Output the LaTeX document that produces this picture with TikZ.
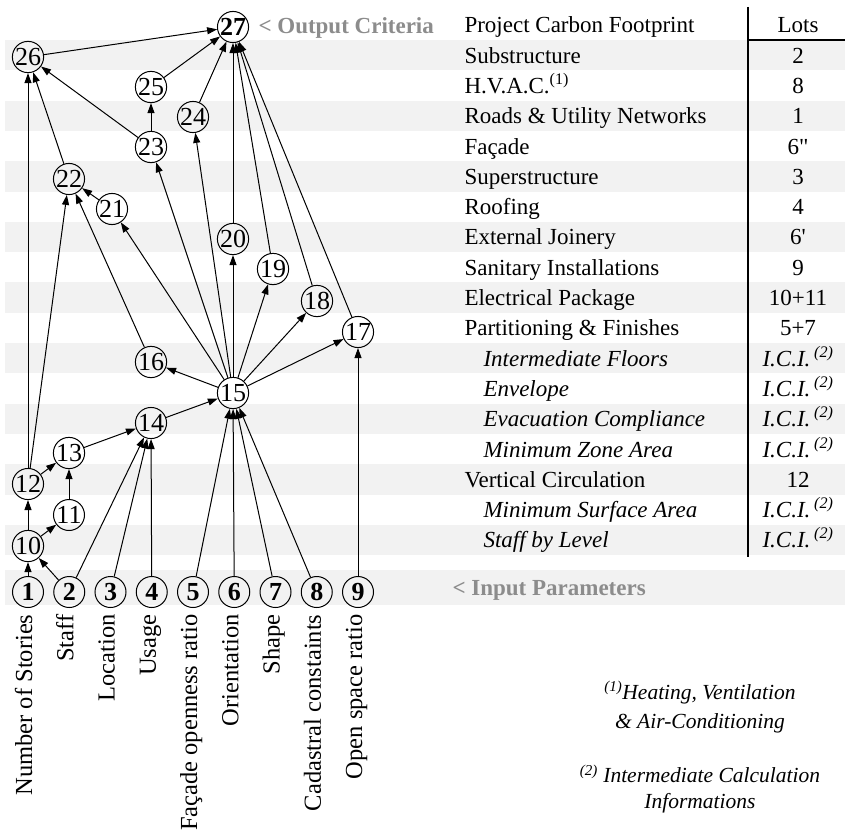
\documentclass[tikz,border=0pt]{standalone}
\usepackage{fontspec}
\setmainfont{Liberation Serif}
\usetikzlibrary{arrows.meta}

\definecolor{bandgray}{RGB}{242,242,242}
\definecolor{critgray}{RGB}{140,140,140}
\newcommand\ici{\textit{I.C.I.\,\textsuperscript{(2)}}}

\begin{document}
\begin{tikzpicture}[->,>={Triangle[length=10pt,width=7pt]},x=1pt,y=-1pt,node distance=41.25pt,line width=1pt,
  state/.style={circle,draw,minimum size=31pt,inner sep=0pt,font=\fontsize{26}{26}\selectfont},
  input/.style={state,font=\fontsize{26}{26}\selectfont\bfseries},
  param/.style={rotate=90,anchor=base east,inner sep=0pt,font=\fontsize{24.5}{26}\selectfont},
  tabtext/.style={anchor=base west,inner sep=0pt,font=\fontsize{23}{26}\selectfont},
  tabsub/.style={tabtext,font=\fontsize{23}{26}\selectfont\itshape},
  tablot/.style={anchor=base,inner sep=0pt,font=\fontsize{23}{26}\selectfont},
  legend/.style={anchor=base west,inner sep=0pt,text=critgray,font=\fontsize{23}{26}\selectfont\bfseries},
  note/.style={align=center,inner sep=0pt,font=\itshape}]
\useasboundingbox (0,0) rectangle (845,832);

% stripes
\foreach \r in {1,3,...,17}
  \fill[bandgray,-] (5,{9.7+30.3*\r}) rectangle (845,{40+30.3*\r});
\fill[bandgray,-] (5,570) rectangle (845,605);

% table
\draw[-,line width=2pt] (748,7) -- (748,557);
\draw[-,line width=2pt] (748,40) -- (845,40);
\node[tabtext](hdr) at (464,33) {Project Carbon Footprint};
\node[tablot](hdrlot) at (798,33) {Lots};
\foreach \i/\txt/\lot in {1/Substructure/2, 2/{H.V.A.C.\textsuperscript{(1)}}/8,
  3/{Roads \& Utility Networks}/1, 4/Façade/6\textquotedbl, 5/Superstructure/3,
  6/Roofing/4, 7/External Joinery/6\textquotesingle, 8/Sanitary Installations/9,
  9/Electrical Package/10+11, 10/{Partitioning \& Finishes}/5+7, 15/Vertical Circulation/12}
{
  \node[tabtext](row\i) at (464,{32.85+30.3*\i}) {\txt};
  \node[tablot](lot\i) at (798,{32.85+30.3*\i}) {\lot};
}
\foreach \i/\txt in {11/Intermediate Floors, 12/Envelope, 13/Evacuation Compliance,
  14/Minimum Zone Area, 16/Minimum Surface Area, 17/Staff by Level}
{
  \node[tabsub](row\i) at (483,{32.85+30.3*\i}) {\txt};
  \node[tablot](lot\i) at (798,{32.85+30.3*\i}) {\ici};
}

% graph
\node[input](n27) at (233,27) {27};
\node[state](n26) at (28,57) {26};
\node[state](n25) at (151,87) {25};
\node[state](n24) at (193,117) {24};
\node[state](n23) at (151,147) {23};
\node[state](n22) at (69,179) {22};
\node[state](n21) at (112,209) {21};
\node[state](n20) at (233,239) {20};
\node[state](n19) at (273,269) {19};
\node[state](n18) at (317,301) {18};
\node[state](n17) at (358,332) {17};
\node[state](n16) at (151,362) {16};
\node[state](n15) at (233,393) {15};
\node[state](n14) at (151,423) {14};
\node[state](n13) at (69,453) {13};
\node[state](n12) at (28,484) {12};
\node[state](n11) at (69,515) {11};
\node[state](n10) at (28,546) {10};

\node[input](n1) at (28,592) {1};
\node[input](n2)[right of=n1]{2};
\node[input](n3)[right of=n2]{3};
\node[input](n4)[right of=n3]{4};
\node[input](n5)[right of=n4]{5};
\node[input](n6)[right of=n5]{6};
\node[input](n7)[right of=n6]{7};
\node[input](n8)[right of=n7]{8};
\node[input](n9)[right of=n8]{9};

\foreach \i/\txt in {1/Number of Stories, 2/Staff, 3/Location, 4/Usage,
  5/Façade openness ratio, 6/Orientation, 7/Shape, 8/Cadastral constaints, 9/Open space ratio}
  \node[param](p\i) at ([xshift=4pt,yshift=-6pt]n\i.south) {\txt};

\node[legend](outcrit) at (258,34) {< Output Criteria};
\node[legend](inpar) at (452,595) {< Input Parameters};

\path(n26)edge(n27)
  (n25)edge(n27)
  (n24)edge(n27)
  (n20)edge(n27)
  (n19)edge(n27)
  (n18)edge(n27)
  (n17)edge(n27)
  (n23)edge(n25)
  (n23)edge(n26)
  (n22)edge(n26)
  (n12)edge(n26)
  (n21)edge(n22)
  (n16)edge(n22)
  (n12)edge(n22)
  (n15)edge(n21)
  (n15)edge(n23)
  (n15)edge(n24)
  (n15)edge(n20)
  (n15)edge(n19)
  (n15)edge(n18)
  (n15)edge(n17)
  (n15)edge(n16)
  (n14)edge(n15)
  (n13)edge(n14)
  (n12)edge(n13)
  (n11)edge(n13)
  (n10)edge(n12)
  (n10)edge(n11)
  (n1)edge(n10)
  (n2)edge(n10)
  (n2)edge(n14)
  (n3)edge(n14)
  (n4)edge(n14)
  (n5)edge(n15)
  (n6)edge(n15)
  (n7)edge(n15)
  (n8)edge(n15)
  (n9)edge(n17);

% footnotes
\node[note,font=\fontsize{21.5}{29}\selectfont\itshape](fn1) at (700,707)
  {\textsuperscript{(1)}Heating, Ventilation\\\& Air-Conditioning};
\node[note,font=\fontsize{21.5}{26}\selectfont\itshape](fn2) at (700,789)
  {\textsuperscript{(2)} Intermediate Calculation\\Informations};

\end{tikzpicture}
\end{document}
